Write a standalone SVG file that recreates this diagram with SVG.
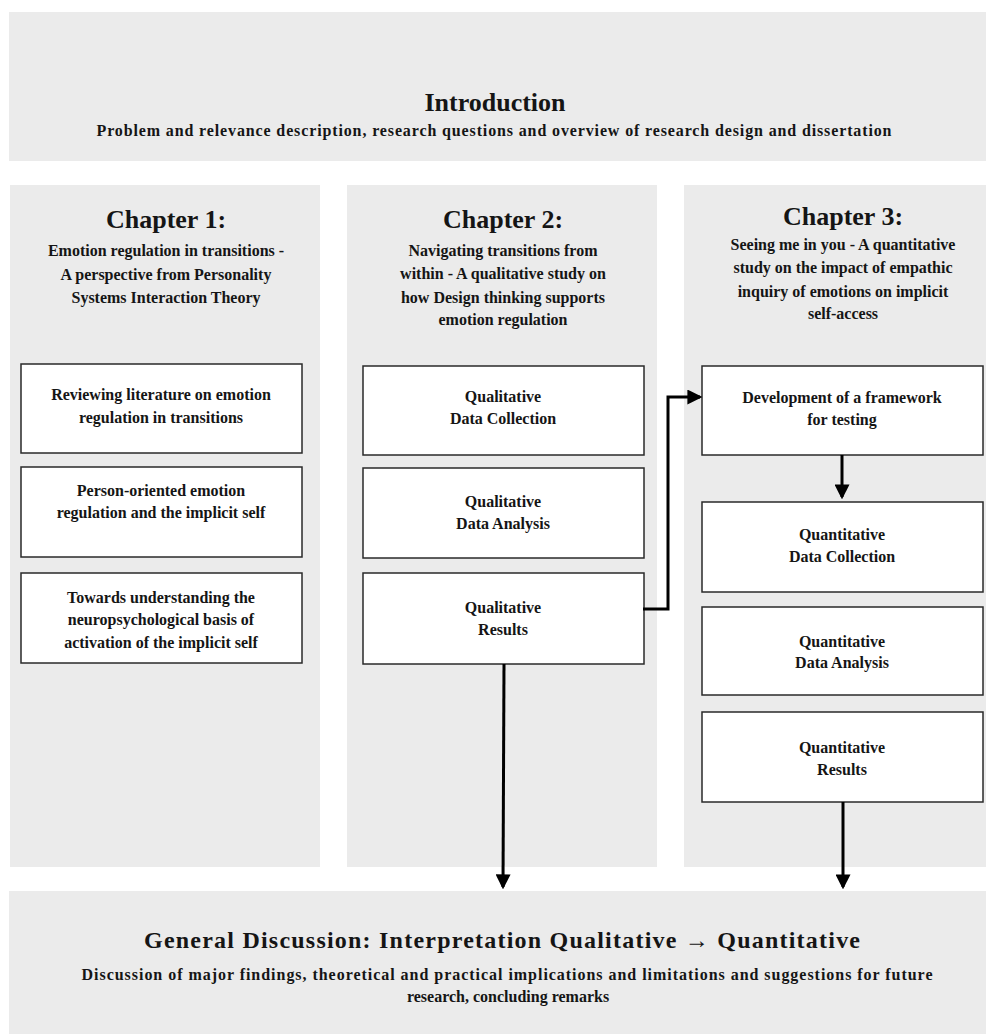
<svg xmlns="http://www.w3.org/2000/svg" width="986" height="1035" viewBox="0 0 986 1035">
<defs>
<style>
.panel{fill:#ebebeb}
.box{fill:#ffffff;stroke:#2a2a2a;stroke-width:1.5}
text{font-family:"Liberation Serif","Times New Roman",serif;font-weight:bold;fill:#151515;text-anchor:middle}
.h1{font-size:26px}
.sub{font-size:16px}
.bt{font-size:16px}
.conn{fill:none;stroke:#000;stroke-width:3}
</style>
<marker id="ah" markerWidth="5" markerHeight="5" refX="4.2" refY="2.5" orient="auto" markerUnits="strokeWidth">
<path d="M0,0 L5,2.5 L0,5 Z" fill="#000"/>
</marker>
</defs>
<rect width="986" height="1035" fill="#ffffff"/>

<g id="intro">
<rect class="panel" x="9" y="12" width="977" height="149"/>
<text class="h1" x="495" y="111">Introduction</text>
<text class="sub" x="494" y="136" textLength="795" lengthAdjust="spacing">Problem and relevance description, research questions and overview of research design and dissertation</text>
</g>

<g id="chapter1">
<rect class="panel" x="10" y="185" width="310" height="682"/>
<text class="h1" x="166" y="228">Chapter 1:</text>
<text class="sub" x="166" y="256">Emotion regulation in transitions -</text>
<text class="sub" x="166" y="280">A perspective from Personality</text>
<text class="sub" x="166" y="303">Systems Interaction Theory</text>
</g>
<g id="ch1-box1">
<rect class="box" x="21" y="364" width="281" height="89"/>
<text class="bt" x="161" y="400">Reviewing literature on emotion</text>
<text class="bt" x="161" y="423">regulation in transitions</text>
</g>
<g id="ch1-box2">
<rect class="box" x="21" y="467" width="281" height="90"/>
<text class="bt" x="161" y="496">Person-oriented emotion</text>
<text class="bt" x="161" y="518">regulation and the implicit self</text>
</g>
<g id="ch1-box3">
<rect class="box" x="21" y="573" width="281" height="90"/>
<text class="bt" x="161" y="603">Towards understanding the</text>
<text class="bt" x="161" y="625">neuropsychological basis of</text>
<text class="bt" x="161" y="648">activation of the implicit self</text>
</g>

<g id="chapter2">
<rect class="panel" x="347" y="185" width="310" height="682"/>
<text class="h1" x="503" y="228">Chapter 2:</text>
<text class="sub" x="503" y="256">Navigating transitions from</text>
<text class="sub" x="503" y="279">within - A qualitative study on</text>
<text class="sub" x="503" y="303">how Design thinking supports</text>
<text class="sub" x="503" y="325">emotion regulation</text>
</g>
<g id="ch2-box1">
<rect class="box" x="363" y="366" width="281" height="89"/>
<text class="bt" x="503" y="402">Qualitative</text>
<text class="bt" x="503" y="424">Data Collection</text>
</g>
<g id="ch2-box2">
<rect class="box" x="363" y="468" width="281" height="90"/>
<text class="bt" x="503" y="507">Qualitative</text>
<text class="bt" x="503" y="529">Data Analysis</text>
</g>
<g id="ch2-box3">
<rect class="box" x="363" y="573" width="281" height="91"/>
<text class="bt" x="503" y="613">Qualitative</text>
<text class="bt" x="503" y="635">Results</text>
</g>

<g id="chapter3">
<rect class="panel" x="684" y="185" width="302" height="682"/>
<text class="h1" x="843" y="225">Chapter 3:</text>
<text class="sub" x="843" y="250">Seeing me in you - A quantitative</text>
<text class="sub" x="843" y="273">study on the impact of empathic</text>
<text class="sub" x="843" y="297">inquiry of emotions on implicit</text>
<text class="sub" x="843" y="319">self-access</text>
</g>
<g id="ch3-box1">
<rect class="box" x="702" y="366" width="281" height="89"/>
<text class="bt" x="842" y="403">Development of a framework</text>
<text class="bt" x="842" y="425">for testing</text>
</g>
<g id="ch3-box2">
<rect class="box" x="702" y="502" width="281" height="90"/>
<text class="bt" x="842" y="540">Quantitative</text>
<text class="bt" x="842" y="562">Data Collection</text>
</g>
<g id="ch3-box3">
<rect class="box" x="702" y="607" width="281" height="88"/>
<text class="bt" x="842" y="647">Quantitative</text>
<text class="bt" x="842" y="668">Data Analysis</text>
</g>
<g id="ch3-box4">
<rect class="box" x="702" y="712" width="281" height="90"/>
<text class="bt" x="842" y="753">Quantitative</text>
<text class="bt" x="842" y="775">Results</text>
</g>

<g id="discussion">
<rect class="panel" x="9" y="891" width="977" height="143"/>
<text x="502" y="948" style="font-size:24px" textLength="716" lengthAdjust="spacing">General Discussion: Interpretation Qualitative → Quantitative</text>
<text class="sub" x="507" y="980" textLength="851" lengthAdjust="spacing">Discussion of major findings, theoretical and practical implications and limitations and suggestions for future</text>
<text class="sub" x="508" y="1002">research, concluding remarks</text>
</g>

<g id="connectors">
<path class="conn" d="M643,609 L668,609 L668,397 L700,397" marker-end="url(#ah)"/>
<path class="conn" d="M842,455 L842,497" marker-end="url(#ah)"/>
<path class="conn" d="M504,664 L503,887" marker-end="url(#ah)"/>
<path class="conn" d="M843,802 L843,887" marker-end="url(#ah)"/>
</g>
</svg>
